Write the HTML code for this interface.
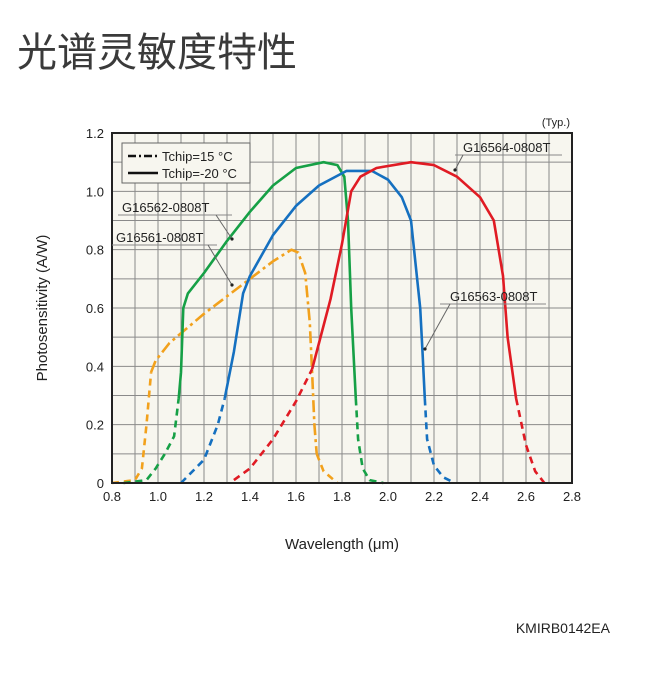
<!DOCTYPE html>
<html><head><meta charset="utf-8"><style>
body{margin:0;background:#fff;width:651px;height:675px;overflow:hidden;font-family:"Liberation Sans","Noto Sans CJK SC",sans-serif}
</style></head><body>
<svg id="c" width="651" height="675" xmlns="http://www.w3.org/2000/svg">
<text x="17" y="66" font-size="40" fill="#3a3a3a" font-family="Noto Sans CJK SC, sans-serif">光谱灵敏度特性</text>
<rect x="112" y="133" width="460" height="350" fill="#f7f6ef"/>
<g id="grid"></g>
<g id="series"></g>
<rect x="112" y="133" width="460" height="350" fill="none" stroke="#222" stroke-width="2"/>
<g id="ticks" font-size="13" fill="#222"></g>
<text x="570" y="126" font-size="11" text-anchor="end" fill="#222">(Typ.)</text>
<text transform="translate(47,308) rotate(-90)" font-size="15" text-anchor="middle" fill="#222">Photosensitivity (A/W)</text>
<text x="342" y="549" font-size="15" text-anchor="middle" fill="#222">Wavelength (μm)</text>
<text x="610" y="633" font-size="14" text-anchor="end" fill="#222">KMIRB0142EA</text>
<g>
<rect x="122" y="143" width="128" height="40" fill="#f7f6ef" stroke="#666" stroke-width="1"/>
<line x1="128" y1="156" x2="158" y2="156" stroke="#111" stroke-width="2.5" stroke-dasharray="8,3,2,3"/>
<text x="162" y="161" font-size="13" fill="#222">Tchip=15 °C</text>
<line x1="128" y1="173" x2="158" y2="173" stroke="#111" stroke-width="2.5"/>
<text x="162" y="178" font-size="13" fill="#222">Tchip=-20 °C</text>
</g>
<g id="labels" font-size="13" fill="#222"></g>
</svg>
<script>
const xTicks=[0.8,1.0,1.2,1.4,1.6,1.8,2.0,2.2,2.4,2.6,2.8];
const yTicks=[0,0.2,0.4,0.6,0.8,1.0,1.2];
// G16561 (orange, 15C)
const orangeLowWl=[0.8,0.9,0.93,0.95,0.97];
const orangeLowVal=[0,0.01,0.05,0.2,0.38];
const orangeMainWl=[0.97,0.99,1.05,1.2,1.4,1.5,1.58,1.61,1.64,1.66,1.67,1.68,1.69];
const orangeMainVal=[0.38,0.42,0.48,0.58,0.7,0.76,0.8,0.79,0.72,0.55,0.38,0.2,0.1];
const orangeTailWl=[1.69,1.72,1.78];
const orangeTailVal=[0.1,0.04,0];
// G16562 (green)
const greenLowWl=[0.85,0.95,0.99,1.03,1.07,1.09];
const greenLowVal=[0,0.01,0.05,0.1,0.16,0.29];
const greenMainWl=[1.09,1.1,1.11,1.13,1.2,1.3,1.4,1.5,1.6,1.72,1.78,1.81,1.826,1.84,1.86];
const greenMainVal=[0.29,0.38,0.6,0.65,0.72,0.83,0.93,1.02,1.08,1.1,1.09,1.05,0.9,0.6,0.29];
const greenTailWl=[1.86,1.87,1.89,1.92,1.98];
const greenTailVal=[0.29,0.15,0.05,0.01,0];
// G16563 (blue)
const blueLowWl=[1.1,1.2,1.26,1.29];
const blueLowVal=[0,0.08,0.2,0.29];
const blueMainWl=[1.29,1.33,1.37,1.4,1.5,1.6,1.7,1.82,1.93,2.0,2.06,2.1,2.12,2.14,2.15,2.16];
const blueMainVal=[0.29,0.45,0.65,0.71,0.85,0.95,1.02,1.07,1.07,1.04,0.98,0.9,0.75,0.6,0.45,0.29];
const blueTailWl=[2.16,2.17,2.2,2.24,2.29];
const blueTailVal=[0.29,0.15,0.06,0.02,0];
// G16564 (red)
const redLowWl=[1.33,1.4,1.5,1.6,1.67];
const redLowVal=[0.01,0.05,0.15,0.28,0.39];
const redMainWl=[1.67,1.7,1.75,1.8,1.84,1.88,1.95,2.1,2.2,2.3,2.4,2.46,2.5,2.52,2.557];
const redMainVal=[0.39,0.48,0.63,0.82,1.0,1.05,1.08,1.1,1.09,1.05,0.98,0.9,0.71,0.5,0.29];
const redTailWl=[2.557,2.6,2.64,2.68];
const redTailVal=[0.29,0.13,0.04,0];

const NS="http://www.w3.org/2000/svg";
const X=v=>112+(v-0.8)*230;
const Y=v=>483-v*291.67;
function mk(t,a,p){const e=document.createElementNS(NS,t);for(const k in a)e.setAttribute(k,a[k]);p.appendChild(e);return e;}
const grid=document.getElementById('grid');
for(let i=1;i<20;i++){const v=0.8+i*0.1;const l=mk('line',{x1:X(v),x2:X(v),y1:133,y2:483,stroke:'#8a8a8a','stroke-width':1},grid);

}
for(let i=1;i<12;i++){const v=i*0.1;const l=mk('line',{x1:112,x2:572,y1:Y(v),y2:Y(v),stroke:'#8a8a8a','stroke-width':1},grid);

}
const tk=document.getElementById('ticks');
xTicks.forEach(v=>{const t=mk('text',{x:X(v),y:501,'text-anchor':'middle'},tk);t.textContent=v.toFixed(1);

});
yTicks.forEach(v=>{const t=mk('text',{x:104,y:Y(v)+5,'text-anchor':'end'},tk);t.textContent=v===0?'0':v.toFixed(1);

});
const sg=document.getElementById('series');
function line(wl,val,color,dash,name){const d=wl.map((w,i)=>(i?'L':'M')+X(w).toFixed(1)+','+Y(val[i]).toFixed(1)).join(' ');
const p=mk('path',{d:d,fill:'none',stroke:color,'stroke-width':2.6,'stroke-linejoin':'round'},sg);if(dash)p.setAttribute('stroke-dasharray',dash);

}
const O='#f2a11c',G='#16a046',B='#1570c0',R='#e01b24';
line(orangeLowWl,orangeLowVal,O,'7,5','g16561-dashed-tail-low');
line(orangeMainWl,orangeMainVal,O,'12,4,3,4','g16561-curve');
line(orangeTailWl,orangeTailVal,O,'7,5','g16561-dashed-tail-high');
line(greenLowWl,greenLowVal,G,'7,5','g16562-dashed-tail-low');
line(greenMainWl,greenMainVal,G,null,'g16562-curve');
line(greenTailWl,greenTailVal,G,'7,5','g16562-dashed-tail-high');
line(blueLowWl,blueLowVal,B,'7,5','g16563-dashed-tail-low');
line(blueMainWl,blueMainVal,B,null,'g16563-curve');
line(blueTailWl,blueTailVal,B,'7,5','g16563-dashed-tail-high');
line(redLowWl,redLowVal,R,'7,5','g16564-dashed-tail-low');
line(redMainWl,redMainVal,R,null,'g16564-curve');
line(redTailWl,redTailVal,R,'7,5','g16564-dashed-tail-high');
const lb=document.getElementById('labels');
function label(txt,tx,ty,ux1,ux2,lx1,ly1,lx2,ly2,name){
const t=mk('text',{x:tx,y:ty},lb);t.textContent=txt;


mk('line',{x1:ux1,y1:ty+3,x2:ux2,y2:ty+3,stroke:'#888','stroke-width':1},lb);
mk('line',{x1:lx1,y1:ly1,x2:lx2,y2:ly2,stroke:'#666','stroke-width':1},lb);
mk('circle',{cx:lx2,cy:ly2,r:1.6,fill:'#222'},lb);}
label('G16564-0808T',463,152,455,562,463,155,455,170,'g16564');
label('G16563-0808T',450,301,440,546,450,304,425,349,'g16563');
label('G16562-0808T',122,212,118,232,216,215,232,239,'g16562');
label('G16561-0808T',116,242,112,217,208,245,232,285,'g16561');
</script>
</body></html>
